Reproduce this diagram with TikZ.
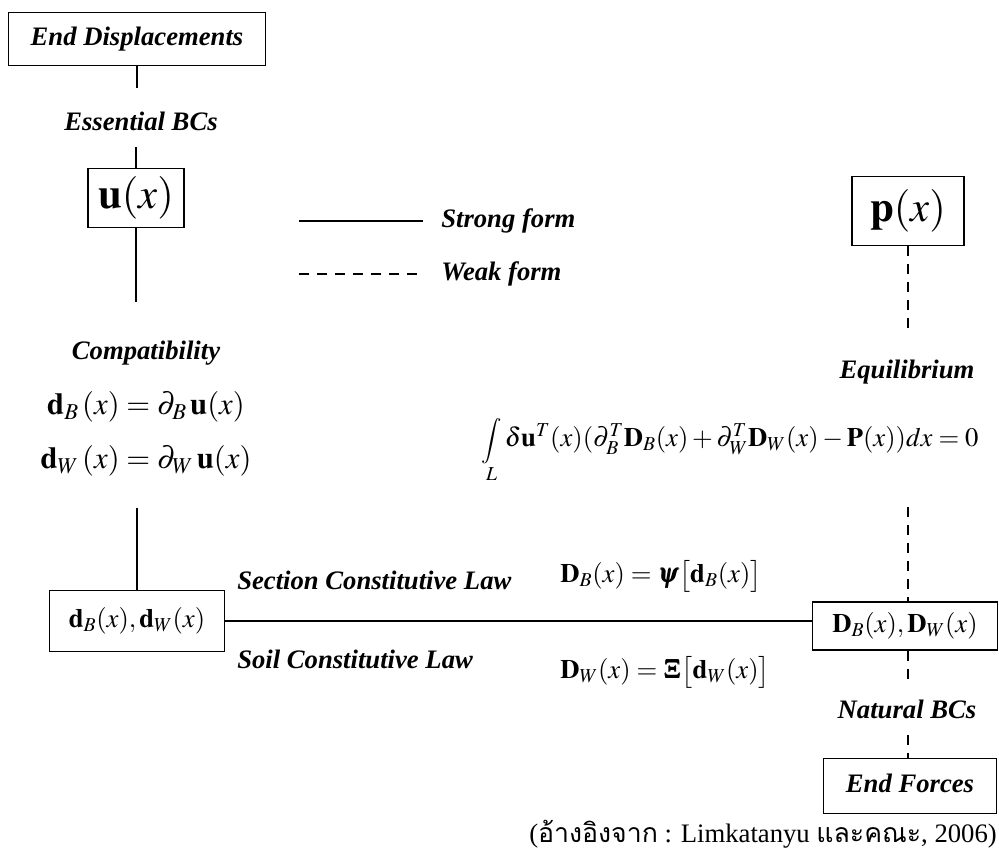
\documentclass[tikz,border=0pt]{standalone}
\usepackage{amsmath}
\usepackage{mathptmx}
\usepackage{bm}
\usepackage[no-math]{fontspec}
\setmainfont{LiberationSerif}[Extension=.ttf, UprightFont=*-Regular, BoldFont=*-Bold,
    ItalicFont=*-Italic, BoldItalicFont=*-BoldItalic]
\newfontfamily\thaifont[Script=Thai]{Loma}

\newcommand\lblfont{\fontsize{20}{24}\selectfont\bfseries\itshape}
\newcommand\eqfont{\fontsize{20}{24}\selectfont}
\newcommand\bigfont{\fontsize{32}{36}\selectfont}
\newcommand\capfont{\fontsize{20}{24}\selectfont}
\newcommand\bigint{\mathop{\hbox{\fontsize{17}{17}\selectfont$\displaystyle\int$}}\limits}

\begin{document}
\begin{tikzpicture}[x=0.75pt, y=-0.75pt,
    lbl/.style={inner sep=0pt, text height=14pt, text depth=4pt, font=\lblfont},
    eqn/.style={inner sep=0pt, text height=15pt, text depth=5pt, font=\eqfont},
    bx/.style={draw, line width=0.8pt, inner sep=0pt},
    strong/.style={line width=1.4pt},
    weak/.style={line width=1.4pt, dash pattern=on 7.5pt off 6pt}]
    \useasboundingbox (0,0) rectangle (999,853);

    % left column: displacements
    \node[bx, lbl, minimum width=193pt, minimum height=40pt] (enddisp) at (137,39) {End Displacements};
    \node[lbl] (essbc) at (141,124) {Essential BCs};
    \node[bx, minimum width=72pt, minimum height=44pt, font=\bigfont] (ubox) at (136,198) {$\mathbf{u}(x)$};
    \node[lbl] (compat) at (146,353) {Compatibility};
    \node[eqn, font=\fontsize{23}{27}\selectfont] (eqdB) at (146,408) {$\mathbf{d}_B\,(x) = \partial_B\,\mathbf{u}(x)$};
    \node[eqn, font=\fontsize{23}{27}\selectfont] (eqdW) at (146,462) {$\mathbf{d}_W\,(x) = \partial_W\,\mathbf{u}(x)$};
    \node[bx, minimum width=131pt, minimum height=46pt, font=\eqfont] (dbox) at (137,621) {$\mathbf{d}_B(x),\mathbf{d}_W(x)$};

    % right column: forces
    \node[bx, minimum width=84pt, minimum height=52pt, font=\bigfont] (pbox) at (908,211) {$\mathbf{p}(x)$};
    \node[lbl] (equil) at (907,372) {Equilibrium};
    \node[eqn] (inteq) at (730,440) {$\bigint_L \delta\mathbf{u}^T(x)(\partial_B^T\mathbf{D}_B(x)+\partial_W^T\mathbf{D}_W(x)-\mathbf{P}(x))dx=0$};
    \node[bx, minimum width=139pt, minimum height=36pt, font=\eqfont] (Dbox) at (905,626) {$\mathbf{D}_B(x),\mathbf{D}_W(x)$};
    \node[lbl] (natbc) at (907,712) {Natural BCs};
    \node[bx, lbl, minimum width=130pt, minimum height=41pt] (endforce) at (910,786) {End Forces};

    % constitutive laws
    \node[lbl, anchor=west] (sectlaw) at (237,583) {Section Constitutive Law};
    \node[lbl, anchor=west] (soillaw) at (237,662) {Soil Constitutive Law};
    \node[eqn, anchor=west] (eqDB) at (560,576) {$\mathbf{D}_B(x)=\bm{\psi}\big[\mathbf{d}_B(x)\big]$};
    \node[eqn, anchor=west] (eqDW) at (560,672) {$\mathbf{D}_W(x)=\bm{\Xi}\big[\mathbf{d}_W(x)\big]$};

    % legend
    \node[lbl, anchor=west] (strongtxt) at (441,221) {Strong form};
    \node[lbl, anchor=west] (weaktxt) at (441,274) {Weak form};
    \coordinate (strongend) at (299,221);
    \coordinate (weakend) at (299,274);
    \draw[strong, shorten >=13.5pt] (strongend) -- (strongtxt.west);
    \draw[weak, shorten >=18pt] (weakend) -- (weaktxt.west);

    % strong form links
    \draw[strong, shorten >=18pt] (enddisp.south) -- (enddisp.south |- essbc.north);
    \draw[strong, shorten <=8pt] (ubox.north |- essbc.south) -- (ubox.north);
    \draw[strong, shorten >=29pt] (ubox.south) -- (ubox.south |- compat.north);
    \draw[strong, shorten <=24.5pt] (dbox.north |- eqdW.south) -- (dbox.north);
    \draw[strong] (dbox.east) -- (dbox.east -| Dbox.west);

    % weak form links
    \draw[weak, shorten >=24pt] (pbox.south) -- (pbox.south |- equil.north);
    \draw[weak, shorten <=40pt] (inteq.south -| pbox.south) -- (Dbox.north -| pbox.south);
    \draw[weak, shorten >=15pt] (Dbox.south -| pbox.south) -- (pbox.south |- natbc.north);
    \draw[weak, shorten <=8pt] (natbc.south -| pbox.south) -- (endforce.north -| pbox.south);

    \node[anchor=east, inner sep=0pt, font=\capfont] (source) at (997,834) {({\thaifont อ้างอิงจาก} : Limkatanyu {\thaifont และคณะ}, 2006)};
\end{tikzpicture}
\end{document}
